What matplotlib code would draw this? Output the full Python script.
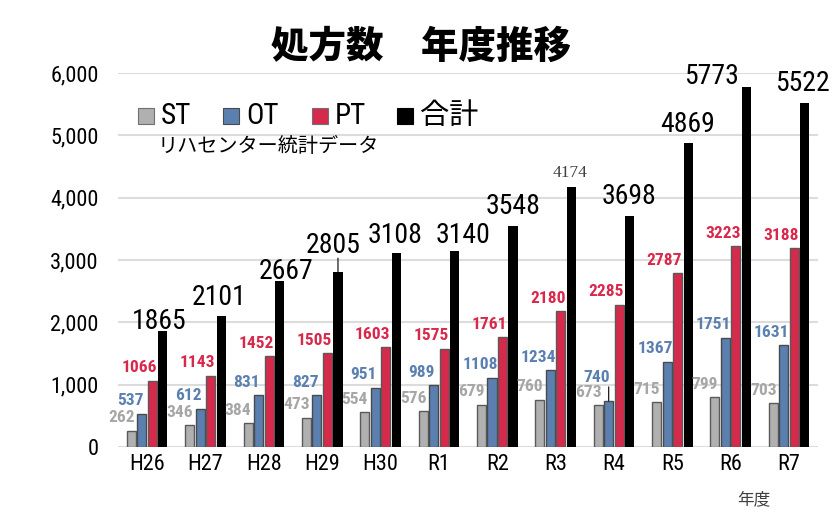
import numpy as np
import matplotlib
matplotlib.use('Agg')
import matplotlib.pyplot as plt
from matplotlib.patches import Rectangle

plt.rcParams['font.family'] = ['Roboto Condensed', 'Archivo Narrow', 'Noto Sans CJK JP', 'DejaVu Sans']

# data
years = ['H26', 'H27', 'H28', 'H29', 'H30', 'R1', 'R2', 'R3', 'R4', 'R5', 'R6', 'R7']
st = [262, 346, 384, 473, 554, 576, 679, 760, 673, 715, 799, 703]
ot = [537, 612, 831, 827, 951, 989, 1108, 1234, 740, 1367, 1751, 1631]
pt = [1066, 1143, 1452, 1505, 1603, 1575, 1761, 2180, 2285, 2787, 3223, 3188]
total = [1865, 2101, 2667, 2805, 3108, 3140, 3548, 4174, 3698, 4869, 5773, 5522]
series_names = ['ST', 'OT', 'PT', '合計']

# label offsets for the totals (pixels from bar top)
total_dx = [-4, -2, 6, -5, -1, 8, 0, -1, -1, 0, -35, -2]
total_dy = [9, 19, 9, 27, 18, 16, 19, 14, 20, 19, 11, 19]

c_st, c_ot, c_pt, c_tot = '#b0b0b0', '#5b80b0', '#d52a4c', '#000000'
lc_st, lc_ot, lc_pt = '#a6a6a6', '#5b80b0', '#d8284b'

fig = plt.figure(figsize=(8.4, 5.17), dpi=100)
ax = fig.add_axes([0.1405, 0.1354, 0.8335, 0.7234])

x = np.arange(len(years))
w = 0.155
step = 0.18
ax.bar(x - 1.5 * step, st, w, color=c_st, edgecolor='#5a5a5a', linewidth=1, zorder=3)
ax.bar(x - 0.5 * step, ot, w, color=c_ot, edgecolor='#4a4a4a', linewidth=1, zorder=3)
ax.bar(x + 0.5 * step, pt, w, color=c_pt, edgecolor='#5a5a5a', linewidth=1, zorder=3)
ax.bar(x + 1.5 * step, total, w, color=c_tot, zorder=3)

ax.set_xlim(-0.5, len(years) - 0.5)
ax.set_ylim(0, 6000)
ax.set_yticks(np.arange(0, 6001, 1000))
ax.set_yticklabels(['{:,}'.format(v) for v in range(0, 6001, 1000)], fontsize=16)
ax.set_xticks(x)
ax.set_xticklabels(years, fontsize=16)
ax.tick_params(axis='y', length=0, pad=14)
ax.tick_params(axis='x', length=0, pad=5)
ax.grid(axis='y', color='#dcdcdc', linewidth=1.5, zorder=0)
for s in ax.spines.values():
    s.set_visible(False)

def lab(xp, v, txt, dx, dy, color, size, weight='bold', family=None):
    kw = {}
    if family:
        kw['family'] = family
    ax.annotate(txt, xy=(xp, v), xytext=(dx, dy), textcoords='offset pixels',
                ha='center', va='center', color=color, fontsize=size,
                fontweight=weight, annotation_clip=False, zorder=5, **kw)

for i in range(len(years)):
    lab(x[i] - 1.5 * step, st[i], str(st[i]), -10, 13, lc_st, 12.5)
    dy_ot = 23 if years[i] == 'R4' else 13
    lab(x[i] - 0.5 * step, ot[i], str(ot[i]), -12, dy_ot, lc_ot, 12.5)
    lab(x[i] + 0.5 * step, pt[i], str(pt[i]), -13, 13, lc_pt, 12.5)
    if years[i] == 'R3':
        lab(x[i] + 1.5 * step, total[i], str(total[i]), total_dx[i], total_dy[i],
            '#404040', 12.5, weight='normal', family=['Liberation Serif', 'DejaVu Serif'])
    else:
        lab(x[i] + 1.5 * step, total[i], str(total[i]), total_dx[i], total_dy[i],
            'black', 20, weight='normal')

# leader lines
for i, name in enumerate(years):
    if name == 'H29':
        ax.annotate('', xy=(x[i] + 1.5 * step, total[i]), xytext=(0, 14),
                    textcoords='offset pixels', annotation_clip=False,
                    arrowprops=dict(arrowstyle='-', color='black', lw=0.8, shrinkA=0, shrinkB=0))
    if name == 'R4':
        ax.annotate('', xy=(x[i] - 0.5 * step, ot[i]), xytext=(0, 14),
                    textcoords='offset pixels', annotation_clip=False,
                    arrowprops=dict(arrowstyle='-', color='black', lw=0.8, shrinkA=0, shrinkB=0))

# legend drawn by hand so the spacing matches
W, H = 840, 517
leg_x = [138, 223, 312, 397]
leg_y = 116
sq = 16
for lx, name, fc, ec in zip(leg_x, series_names,
                            [c_st, c_ot, c_pt, c_tot],
                            ['#707070', '#4a4a4a', '#707070', c_tot]):
    fig.patches.append(Rectangle((lx / W, 1 - (leg_y + sq / 2) / H), sq / W, sq / H,
                                 transform=fig.transFigure, facecolor=fc,
                                 edgecolor=ec, linewidth=0.8))
    fig.text((lx + sq + 7) / W, 1 - leg_y / H, name, fontsize=21,
             va='center', ha='left')

fig.text(158 / W, 1 - 147 / H, 'リハセンター統計データ', fontsize=14.5,
         family=['Noto Sans CJK JP'], va='center', ha='left')
fig.text(421 / W, 1 - 47 / H, '処方数　年度推移', fontsize=27, fontweight='black',
         family=['Noto Sans CJK JP'], va='center', ha='center')
fig.text(754 / W, 1 - 500 / H, '年度', fontsize=12, color='#404040',
         family=['Noto Sans CJK JP'], va='center', ha='center')

fig.savefig('out.png', dpi=100, facecolor='white')
